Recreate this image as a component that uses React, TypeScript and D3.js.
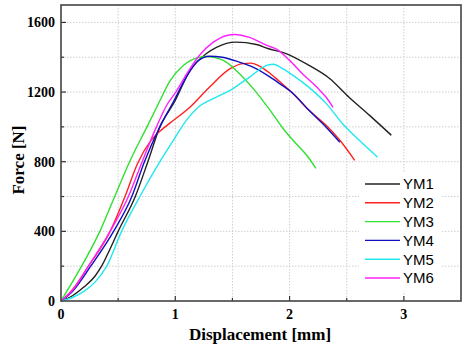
import React from "react";
import * as d3 from "d3";

// displacement [mm], force [N]
const ym1 = [[0,0],[0.1,30],[0.2,80],[0.3,145],[0.355,200],[0.43,300],[0.5,400],[0.65,600],[0.76,800],[0.865,1000],[0.99,1140],[1.13,1325],[1.27,1420],[1.36,1457],[1.53,1487],[1.71,1473],[1.81,1450],[1.97,1421],[2.17,1353],[2.35,1278],[2.52,1170],[2.7,1066],[2.89,952]];
const ym2 = [[0,0],[0.1,65],[0.24,200],[0.43,400],[0.56,600],[0.67,790],[0.78,915],[0.865,975],[0.95,1020],[1.13,1114],[1.3,1229],[1.48,1334],[1.59,1363],[1.66,1366],[1.74,1348],[1.83,1307],[1.91,1262],[2.03,1192],[2.17,1095],[2.32,1009],[2.44,923],[2.57,808]];
const ym3 = [[0,0],[0.1,110],[0.18,200],[0.34,400],[0.47,600],[0.6,800],[0.76,1010],[0.865,1150],[0.95,1260],[1.07,1353],[1.2,1398],[1.27,1404],[1.42,1382],[1.56,1307],[1.68,1221],[1.83,1095],[1.95,985],[2.03,923],[2.15,837],[2.23,762]];
const ym4 = [[0,0],[0.1,55],[0.26,200],[0.46,400],[0.62,600],[0.73,800],[0.865,1000],[0.98,1140],[1.1,1290],[1.2,1380],[1.3,1406],[1.41,1400],[1.56,1372],[1.68,1343],[1.83,1286],[1.91,1250],[2.03,1192],[2.17,1095],[2.32,998],[2.44,912]];
const ym5 = [[0,0],[0.1,20],[0.2,55],[0.3,110],[0.4,200],[0.53,400],[0.69,600],[0.865,800],[0.98,920],[1.1,1040],[1.21,1118],[1.36,1171],[1.48,1210],[1.65,1286],[1.8,1353],[1.86,1360],[1.92,1342],[2.03,1296],[2.17,1227],[2.32,1135],[2.46,1021],[2.61,923],[2.77,826]];
const ym6 = [[0,0],[0.1,60],[0.24,200],[0.43,400],[0.59,600],[0.71,800],[0.835,1000],[0.93,1130],[1.0,1195],[1.1,1305],[1.21,1410],[1.33,1485],[1.45,1525],[1.52,1531],[1.65,1514],[1.8,1468],[1.89,1445],[2.0,1382],[2.11,1307],[2.24,1227],[2.32,1170],[2.38,1112]];

const names = ["YM1", "YM2", "YM3", "YM4", "YM5", "YM6"];
const colors = ["#222222", "#ff2020", "#30e030", "#1010c0", "#20e8f0", "#ff20ff"];
const xTicks = [0, 1, 2, 3];
const yTicks = [0, 400, 800, 1200, 1600];

const App = () => {
  const width = 463;
  const height = 349;
  const margins = { top: 5, right: 2, bottom: 48, left: 61 };
  const innerWidth = width - margins.left - margins.right;
  const innerHeight = height - margins.top - margins.bottom;

  const xScale = d3.scaleLinear().domain([0, 3.5]).range([0, innerWidth]);
  const yScale = d3.scaleLinear().domain([0, 1700]).range([innerHeight, 0]);

  const line = d3.line<number[]>()
    .x(d => xScale(d[0]))
    .y(d => yScale(d[1]))
    .curve(d3.curveMonotoneX);

  const series = [ym1, ym2, ym3, ym4, ym5, ym6];
  const xMinor = d3.range(0.5, 3.5, 0.5);
  const yMinor = d3.range(200, 1700, 200);
  const serif = "'Liberation Serif', 'Times New Roman', serif";

  // legend box, in inner coordinates
  const lx = 304;
  const ly = 179;
  const rowH = 18.8;

  return (
    <svg width={width} height={height} style={{ position: "absolute", left: 0, top: 0, background: "#fff" }}>
      <g transform={`translate(${margins.left}, ${margins.top})`}>
        {/* grid */}
        {xMinor.map(t => (
          <line key={"gx" + t} x1={xScale(t)} x2={xScale(t)} y1={0} y2={innerHeight}
                stroke="#cfcfcf" strokeDasharray="1.5,1.5" strokeWidth={1}/>
        ))}
        {yMinor.map(t => (
          <line key={"gy" + t} x1={0} x2={innerWidth} y1={yScale(t)} y2={yScale(t)}
                stroke="#cfcfcf" strokeDasharray="1.5,1.5" strokeWidth={1}/>
        ))}

        {/* legend background hides grid */}
        <rect x={lx - 6} y={ly - 12} width={82} height={6 * rowH + 6} fill="#fff"/>

        {series.map((s, i) => (
          <path key={names[i]} d={line(s as number[][]) || ""} fill="none" stroke={colors[i]} strokeWidth={1.4}/>
        ))}

        {/* ticks, inward */}
        {xMinor.map(t => (
          <line key={"tx" + t} x1={xScale(t)} x2={xScale(t)} y1={innerHeight} y2={innerHeight - (t % 1 === 0 ? 5 : 3)}
                stroke="#333" strokeWidth={1.2}/>
        ))}
        {yMinor.map(t => (
          <line key={"ty" + t} x1={0} x2={t % 400 === 0 ? 5 : 3} y1={yScale(t)} y2={yScale(t)}
                stroke="#333" strokeWidth={1.2}/>
        ))}

        <rect x={0} y={0} width={innerWidth} height={innerHeight} fill="none" stroke="#444" strokeWidth={1.6}/>

        {xTicks.map(t => (
          <text key={"lx" + t} x={xScale(t)} y={innerHeight + 18} textAnchor="middle"
                fontFamily={serif} fontWeight="bold" fontSize={14}>{t}</text>
        ))}
        {yTicks.map(t => (
          <text key={"ly" + t} x={-6} y={yScale(t)} dy="0.35em" textAnchor="end"
                fontFamily={serif} fontWeight="bold" fontSize={14}>{t}</text>
        ))}

        {names.map((n, i) => (
          <g key={"lg" + n} transform={`translate(${lx}, ${ly + i * rowH})`}>
            <line x1={0} x2={35} y1={0} y2={0} stroke={colors[i]} strokeWidth={1.4}/>
            <text x={38} y={0} dy="0.36em" fontFamily="'Liberation Sans', Arial, sans-serif" fontSize={15}>{n}</text>
          </g>
        ))}
      </g>

      <text x={260} y={340} textAnchor="middle" fontFamily={serif} fontWeight="bold" fontSize={17}>Displacement [mm]</text>
      <text transform="translate(24, 160) rotate(-90)" textAnchor="middle" fontFamily={serif} fontWeight="bold" fontSize={17}>Force [N]</text>
    </svg>
  );
};

export default App;
